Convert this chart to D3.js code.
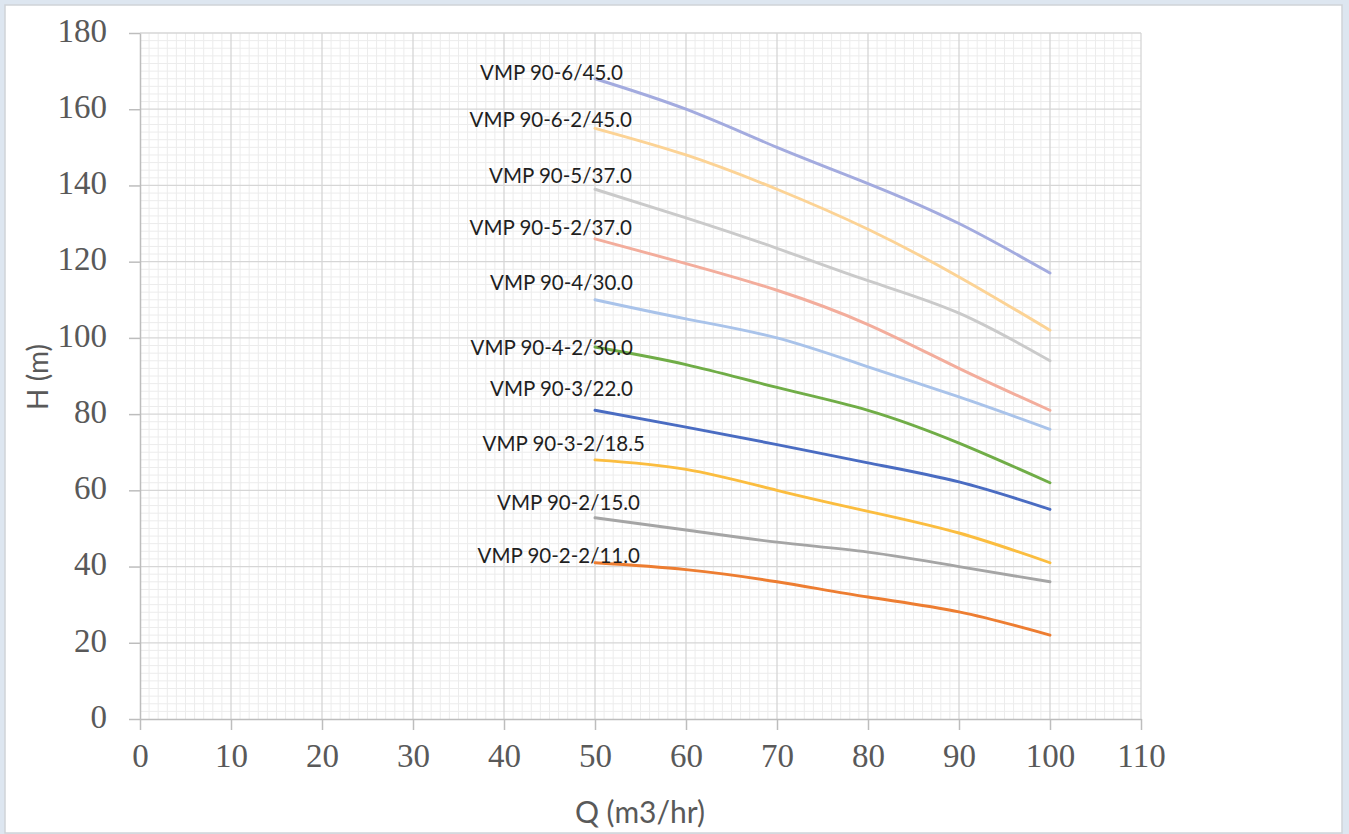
<!DOCTYPE html>
<html>
<head>
<meta charset="utf-8">
<script src="https://cdn.jsdelivr.net/npm/d3@7/dist/d3.min.js"></script>
<style>
  html, body { margin: 0; padding: 0; background: #dde6f0; }
  svg { display: block; }
</style>
</head>
<body>
<svg id="chart" width="1349" height="834"></svg>
<script>
// ---------------- DATA ----------------
const flowQ = [50, 60, 70, 80, 90, 100];
const seriesNames = [
  "VMP 90-6/45.0", "VMP 90-6-2/45.0", "VMP 90-5/37.0", "VMP 90-5-2/37.0",
  "VMP 90-4/30.0", "VMP 90-4-2/30.0", "VMP 90-3/22.0", "VMP 90-3-2/18.5",
  "VMP 90-2/15.0", "VMP 90-2-2/11.0"
];
const head_6_45   = [168, 160, 150, 140.5, 130, 117];
const head_6_2_45 = [155, 148, 139, 128.5, 116, 102];
const head_5_37   = [139, 131.5, 123.5, 115, 106.5, 94];
const head_5_2_37 = [126, 119.5, 112.5, 103.5, 92, 81];
const head_4_30   = [110, 105, 100, 92.4, 84.5, 76];
const head_4_2_30 = [97.6, 93, 87, 81, 72.4, 62];
const head_3_22   = [81, 76.6, 72, 67.2, 62.2, 55];
const head_3_2_185= [68, 65.5, 60, 54.5, 48.8, 41];
const head_2_15   = [52.8, 49.6, 46.4, 43.8, 40, 36];
const head_2_2_11 = [41, 39.2, 36, 32, 28.1, 22];
const xTicks = [0, 10, 20, 30, 40, 50, 60, 70, 80, 90, 100, 110];
const yTicks = [0, 20, 40, 60, 80, 100, 120, 140, 160, 180];
const xTitle = "Q (m3/hr)";
const yTitle = "H (m)";

// ---------------- STYLE / LAYOUT ----------------
const seriesHeads = [head_6_45, head_6_2_45, head_5_37, head_5_2_37, head_4_30,
  head_4_2_30, head_3_22, head_3_2_185, head_2_15, head_2_2_11];
const seriesColors = ["#a3abdf", "#fcd395", "#cacaca", "#f3ad9c", "#a9c3ea",
  "#70ad47", "#4a6cc2", "#fbbd3f", "#a5a5a5", "#ed7d31"];
// label placement: right edge offset and vertical-centre offset from first point (px)
const labelDx = [28, 37, 37, 37, 38, 38, 38, 50, 45, 45];
const labelDy = [-7, -9, -14, -12, -18, 0, -22, -17, -16, -8];

const W = 1349, H = 834;
const plot = { left: 140, right: 1141, top: 33, bottom: 719 };

const svg = d3.select("#chart");

// outer panel
svg.append("rect").attr("x", 0).attr("y", 0).attr("width", W).attr("height", H).attr("fill", "#dde6f0");
svg.append("rect").attr("x", 5).attr("y", 5).attr("width", 1337).attr("height", 828)
  .attr("fill", "#ffffff").attr("stroke", "#cfd3d8").attr("stroke-width", 1.5);

const x = d3.scaleLinear().domain([0, 110]).range([plot.left, plot.right]);
const y = d3.scaleLinear().domain([0, 180]).range([plot.bottom, plot.top]);

// minor grid
const g = svg.append("g");
g.selectAll(".mx").data(d3.range(0, 111, 1).filter(v => v % 10 !== 0)).enter().append("line")
  .attr("x1", d => x(d)).attr("x2", d => x(d)).attr("y1", plot.top).attr("y2", plot.bottom)
  .attr("stroke", "#ececec").attr("stroke-width", 1);
g.selectAll(".my").data(d3.range(0, 181, 2).filter(v => v % 20 !== 0)).enter().append("line")
  .attr("x1", plot.left).attr("x2", plot.right).attr("y1", d => y(d)).attr("y2", d => y(d))
  .attr("stroke", "#ececec").attr("stroke-width", 1);
// major grid
g.selectAll(".Mx").data(xTicks.filter(v => v !== 0)).enter().append("line")
  .attr("x1", d => x(d)).attr("x2", d => x(d)).attr("y1", plot.top).attr("y2", plot.bottom)
  .attr("stroke", "#d6d6d6").attr("stroke-width", 1.3);
g.selectAll(".My").data(yTicks.filter(v => v !== 0)).enter().append("line")
  .attr("x1", plot.left).attr("x2", plot.right).attr("y1", d => y(d)).attr("y2", d => y(d))
  .attr("stroke", "#d6d6d6").attr("stroke-width", 1.3);

// axes
const xAxis = svg.append("g").attr("transform", `translate(0,${plot.bottom})`)
  .call(d3.axisBottom(x).tickValues(xTicks).tickSize(11).tickPadding(14).tickSizeOuter(0));
const yAxis = svg.append("g").attr("transform", `translate(${plot.left},0)`)
  .call(d3.axisLeft(y).tickValues(yTicks).tickSize(11).tickPadding(22).tickSizeOuter(0));
[xAxis, yAxis].forEach(a => {
  a.select(".domain").attr("stroke", "#bdbdbd").attr("stroke-width", 1.5);
  a.selectAll(".tick line").attr("stroke", "#bdbdbd").attr("stroke-width", 1.5);
  a.selectAll(".tick text").attr("fill", "#595959")
    .style("font-family", "'Liberation Serif', 'Times New Roman', serif").style("font-size", "33px");
});
yAxis.selectAll(".tick text").attr("dy", "0.25em");
xAxis.selectAll(".tick text").attr("dy", "0.71em");

// lines
const line = d3.line().x((d, i) => x(flowQ[i])).y(d => y(d)).curve(d3.curveNatural);
seriesHeads.forEach((vals, k) => {
  svg.append("path").datum(vals).attr("d", line).attr("fill", "none")
    .attr("stroke", seriesColors[k]).attr("stroke-width", 2.9).attr("stroke-linecap", "round");
});

// labels
seriesHeads.forEach((vals, k) => {
  svg.append("text").attr("x", x(flowQ[0]) + labelDx[k]).attr("y", y(vals[0]) + labelDy[k])
    .attr("text-anchor", "end").attr("dominant-baseline", "central")
    .style("font-family", "Lato, 'Open Sans', sans-serif").style("font-size", "20.5px")
    .attr("fill", "#1f1f1f").text(seriesNames[k]);
});

// axis titles
svg.append("text").attr("x", 640).attr("y", 811).attr("text-anchor", "middle")
  .attr("dominant-baseline", "central")
  .style("font-family", "Lato, 'Open Sans', sans-serif").style("font-size", "30px")
  .attr("fill", "#595959").text(xTitle);
svg.append("text").attr("transform", "translate(37,377) rotate(-90)").attr("text-anchor", "middle")
  .attr("dominant-baseline", "central")
  .style("font-family", "Lato, 'Open Sans', sans-serif").style("font-size", "28px")
  .attr("fill", "#595959").text(yTitle);
</script>
</body>
</html>
